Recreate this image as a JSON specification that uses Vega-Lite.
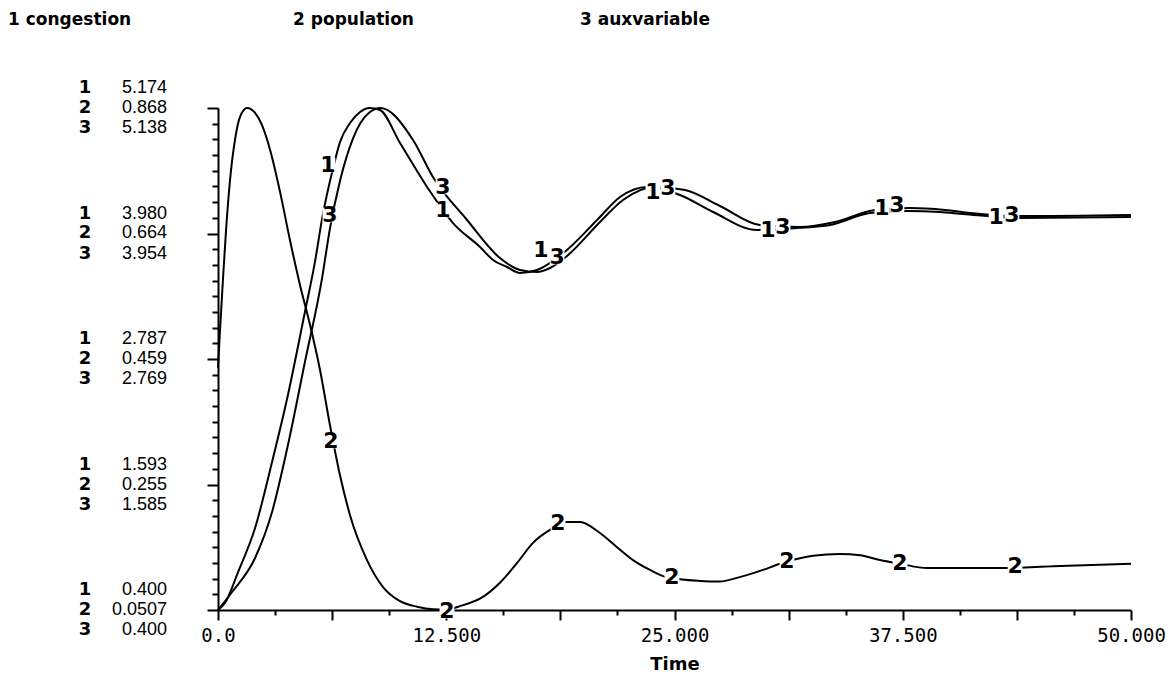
{
  "$schema": "https://vega.github.io/schema/vega-lite/v6.json",
  "width": 913,
  "height": 502,
  "autosize": {"type": "none"},
  "padding": {"left": 218, "top": 108, "right": 43, "bottom": 83},
  "background": "white",
  "config": {"view": {"stroke": null}, "font": "DejaVu Sans"},
  "datasets": {
    "series": [
      {"s": "congestion", "t": 0, "v": 0.4},
      {"s": "congestion", "t": 0.38, "v": 0.467},
      {"s": "congestion", "t": 1.1, "v": 0.761},
      {"s": "congestion", "t": 2.03, "v": 1.18},
      {"s": "congestion", "t": 2.96, "v": 1.807},
      {"s": "congestion", "t": 3.83, "v": 2.445},
      {"s": "congestion", "t": 4.76, "v": 3.234},
      {"s": "congestion", "t": 5.31, "v": 3.71},
      {"s": "congestion", "t": 5.7, "v": 4.12},
      {"s": "congestion", "t": 6.3, "v": 4.6},
      {"s": "congestion", "t": 6.68, "v": 4.85},
      {"s": "congestion", "t": 7.23, "v": 5.031},
      {"s": "congestion", "t": 7.78, "v": 5.136},
      {"s": "congestion", "t": 8.3, "v": 5.174},
      {"s": "congestion", "t": 8.87, "v": 5.155},
      {"s": "congestion", "t": 9.97, "v": 4.841},
      {"s": "congestion", "t": 11.45, "v": 4.423},
      {"s": "congestion", "t": 12.87, "v": 4.08},
      {"s": "congestion", "t": 14.35, "v": 3.852},
      {"s": "congestion", "t": 15.06, "v": 3.729},
      {"s": "congestion", "t": 15.83, "v": 3.662},
      {"s": "congestion", "t": 16.54, "v": 3.605},
      {"s": "congestion", "t": 17.47, "v": 3.633},
      {"s": "congestion", "t": 19.11, "v": 3.824},
      {"s": "congestion", "t": 20.76, "v": 4.109},
      {"s": "congestion", "t": 22.02, "v": 4.328},
      {"s": "congestion", "t": 23.49, "v": 4.423},
      {"s": "congestion", "t": 25.3, "v": 4.347},
      {"s": "congestion", "t": 27.11, "v": 4.185},
      {"s": "congestion", "t": 29.52, "v": 4.014},
      {"s": "congestion", "t": 31.71, "v": 4.033},
      {"s": "congestion", "t": 33.52, "v": 4.061},
      {"s": "congestion", "t": 35.71, "v": 4.175},
      {"s": "congestion", "t": 37.73, "v": 4.194},
      {"s": "congestion", "t": 39.54, "v": 4.185},
      {"s": "congestion", "t": 40.8, "v": 4.166},
      {"s": "congestion", "t": 43.92, "v": 4.128},
      {"s": "congestion", "t": 50, "v": 4.137},
      {"s": "population", "t": 0, "v": 0.445},
      {"s": "population", "t": 0.11, "v": 0.506},
      {"s": "population", "t": 0.27, "v": 0.588},
      {"s": "population", "t": 0.44, "v": 0.669},
      {"s": "population", "t": 0.66, "v": 0.751},
      {"s": "population", "t": 0.93, "v": 0.816},
      {"s": "population", "t": 1.2, "v": 0.853},
      {"s": "population", "t": 1.59, "v": 0.868},
      {"s": "population", "t": 2.03, "v": 0.86},
      {"s": "population", "t": 2.41, "v": 0.84},
      {"s": "population", "t": 2.85, "v": 0.8},
      {"s": "population", "t": 3.4, "v": 0.731},
      {"s": "population", "t": 3.94, "v": 0.653},
      {"s": "population", "t": 4.49, "v": 0.58},
      {"s": "population", "t": 5.04, "v": 0.515},
      {"s": "population", "t": 5.59, "v": 0.441},
      {"s": "population", "t": 6.13, "v": 0.352},
      {"s": "population", "t": 6.68, "v": 0.27},
      {"s": "population", "t": 7.23, "v": 0.205},
      {"s": "population", "t": 8.16, "v": 0.132},
      {"s": "population", "t": 9.04, "v": 0.088},
      {"s": "population", "t": 9.97, "v": 0.065},
      {"s": "population", "t": 10.9, "v": 0.056},
      {"s": "population", "t": 11.77, "v": 0.052},
      {"s": "population", "t": 12.54, "v": 0.0515},
      {"s": "population", "t": 13.25, "v": 0.057},
      {"s": "population", "t": 14.51, "v": 0.072},
      {"s": "population", "t": 15.44, "v": 0.095},
      {"s": "population", "t": 16.37, "v": 0.127},
      {"s": "population", "t": 17.25, "v": 0.16},
      {"s": "population", "t": 18.18, "v": 0.181},
      {"s": "population", "t": 19.11, "v": 0.194},
      {"s": "population", "t": 19.83, "v": 0.194},
      {"s": "population", "t": 20.92, "v": 0.176},
      {"s": "population", "t": 21.85, "v": 0.153},
      {"s": "population", "t": 22.73, "v": 0.132},
      {"s": "population", "t": 23.66, "v": 0.116},
      {"s": "population", "t": 24.59, "v": 0.104},
      {"s": "population", "t": 26.4, "v": 0.098},
      {"s": "population", "t": 27.49, "v": 0.097},
      {"s": "population", "t": 28.42, "v": 0.103},
      {"s": "population", "t": 29.85, "v": 0.116},
      {"s": "population", "t": 30.78, "v": 0.126},
      {"s": "population", "t": 32.59, "v": 0.139},
      {"s": "population", "t": 34.06, "v": 0.142},
      {"s": "population", "t": 35.16, "v": 0.14},
      {"s": "population", "t": 36.25, "v": 0.132},
      {"s": "population", "t": 37.35, "v": 0.126},
      {"s": "population", "t": 38.83, "v": 0.119},
      {"s": "population", "t": 42.99, "v": 0.119},
      {"s": "population", "t": 45.73, "v": 0.122},
      {"s": "population", "t": 50, "v": 0.126},
      {"s": "auxvariable", "t": 0, "v": 0.4},
      {"s": "auxvariable", "t": 0.77, "v": 0.57},
      {"s": "auxvariable", "t": 2.03, "v": 0.891},
      {"s": "auxvariable", "t": 2.96, "v": 1.325},
      {"s": "auxvariable", "t": 3.83, "v": 1.957},
      {"s": "auxvariable", "t": 4.76, "v": 2.741},
      {"s": "auxvariable", "t": 5.7, "v": 3.533},
      {"s": "auxvariable", "t": 6.13, "v": 4.0},
      {"s": "auxvariable", "t": 6.68, "v": 4.45},
      {"s": "auxvariable", "t": 7.39, "v": 4.85},
      {"s": "auxvariable", "t": 8.32, "v": 5.1},
      {"s": "auxvariable", "t": 8.9, "v": 5.138},
      {"s": "auxvariable", "t": 10.68, "v": 4.836},
      {"s": "auxvariable", "t": 11.77, "v": 4.487},
      {"s": "auxvariable", "t": 13.64, "v": 4.081},
      {"s": "auxvariable", "t": 15.44, "v": 3.722},
      {"s": "auxvariable", "t": 16.54, "v": 3.609},
      {"s": "auxvariable", "t": 17.47, "v": 3.59},
      {"s": "auxvariable", "t": 18.18, "v": 3.628},
      {"s": "auxvariable", "t": 19.11, "v": 3.741},
      {"s": "auxvariable", "t": 20.92, "v": 4.062},
      {"s": "auxvariable", "t": 22.18, "v": 4.27},
      {"s": "auxvariable", "t": 23.93, "v": 4.392},
      {"s": "auxvariable", "t": 25.58, "v": 4.364},
      {"s": "auxvariable", "t": 27.49, "v": 4.213},
      {"s": "auxvariable", "t": 29.68, "v": 4.034},
      {"s": "auxvariable", "t": 31.87, "v": 4.015},
      {"s": "auxvariable", "t": 33.79, "v": 4.062},
      {"s": "auxvariable", "t": 35.98, "v": 4.176},
      {"s": "auxvariable", "t": 37.9, "v": 4.194},
      {"s": "auxvariable", "t": 39.81, "v": 4.176},
      {"s": "auxvariable", "t": 41.18, "v": 4.147},
      {"s": "auxvariable", "t": 43.92, "v": 4.118},
      {"s": "auxvariable", "t": 50, "v": 4.128}
    ],
    "curvelabels": [
      {"s": "congestion", "k": "1", "t": 6.02, "v": 4.632},
      {"s": "congestion", "k": "1", "t": 12.32, "v": 4.204},
      {"s": "congestion", "k": "1", "t": 17.69, "v": 3.824},
      {"s": "congestion", "k": "1", "t": 23.82, "v": 4.375},
      {"s": "congestion", "k": "1", "t": 30.12, "v": 4.014},
      {"s": "congestion", "k": "1", "t": 36.36, "v": 4.223},
      {"s": "congestion", "k": "1", "t": 42.61, "v": 4.137},
      {"s": "population", "k": "2", "t": 6.19, "v": 0.326},
      {"s": "population", "k": "2", "t": 12.54, "v": 0.049},
      {"s": "population", "k": "2", "t": 18.62, "v": 0.192},
      {"s": "population", "k": "2", "t": 24.86, "v": 0.104},
      {"s": "population", "k": "2", "t": 31.16, "v": 0.13},
      {"s": "population", "k": "2", "t": 37.35, "v": 0.127},
      {"s": "population", "k": "2", "t": 43.65, "v": 0.122},
      {"s": "auxvariable", "k": "3", "t": 6.13, "v": 4.128},
      {"s": "auxvariable", "k": "3", "t": 12.32, "v": 4.392},
      {"s": "auxvariable", "k": "3", "t": 18.57, "v": 3.732},
      {"s": "auxvariable", "k": "3", "t": 24.64, "v": 4.383},
      {"s": "auxvariable", "k": "3", "t": 30.94, "v": 4.015},
      {"s": "auxvariable", "k": "3", "t": 37.18, "v": 4.222},
      {"s": "auxvariable", "k": "3", "t": 43.48, "v": 4.128}
    ],
    "scalelabels": [
      {"s": "congestion", "k": "1", "v": 5.174, "num": "5.174"},
      {"s": "congestion", "k": "1", "v": 3.9805, "num": "3.980"},
      {"s": "congestion", "k": "1", "v": 2.787, "num": "2.787"},
      {"s": "congestion", "k": "1", "v": 1.5935, "num": "1.593"},
      {"s": "congestion", "k": "1", "v": 0.4, "num": "0.400"},
      {"s": "population", "k": "2", "v": 0.868, "num": "0.868"},
      {"s": "population", "k": "2", "v": 0.6637, "num": "0.664"},
      {"s": "population", "k": "2", "v": 0.4593, "num": "0.459"},
      {"s": "population", "k": "2", "v": 0.255, "num": "0.255"},
      {"s": "population", "k": "2", "v": 0.0507, "num": "0.0507"},
      {"s": "auxvariable", "k": "3", "v": 5.138, "num": "5.138"},
      {"s": "auxvariable", "k": "3", "v": 3.9535, "num": "3.954"},
      {"s": "auxvariable", "k": "3", "v": 2.769, "num": "2.769"},
      {"s": "auxvariable", "k": "3", "v": 1.5845, "num": "1.585"},
      {"s": "auxvariable", "k": "3", "v": 0.4, "num": "0.400"}
    ],
    "legend": [
      {"name": "1 congestion", "pos": -11.5},
      {"name": "2 population", "pos": 4.11},
      {"name": "3 auxvariable", "pos": 19.82}
    ]
  },
  "resolve": {"scale": {"y": "independent"}, "axis": {"y": "independent"}},
  "layer": [
    {
      "data": {"name": "series"},
      "transform": [{"filter": "datum.s == 'congestion'"}],
      "mark": {"type": "line", "color": "black", "strokeWidth": 2, "interpolate": "monotone"},
      "encoding": {
        "x": {"field": "t", "type": "quantitative", "scale": {"domain": [0, 50], "nice": false, "zero": false},
          "axis": {
            "values": [0,1.5625,3.125,4.6875,6.25,7.8125,9.375,10.9375,12.5,14.0625,15.625,17.1875,18.75,20.3125,21.875,23.4375,25,26.5625,28.125,29.6875,31.25,32.8125,34.375,35.9375,37.5,39.0625,40.625,42.1875,43.75,45.3125,46.875,48.4375,50],
            "labelExpr": "datum.value == 0 ? '0.0' : (datum.value % 12.5 == 0 ? format(datum.value, '.3f') : '')",
            "labelFont": "DejaVu Sans Mono", "labelFontSize": 19, "labelColor": "black", "labelOverlap": false, "labelFlush": false, "labelBound": false, "labelPadding": 6,
            "domainColor": "black", "domainWidth": 2, "tickColor": "black", "tickWidth": 2,
            "tickSize": {"condition": {"test": "datum.value % 6.25 == 0", "value": 10}, "value": 5},
            "grid": false,
            "title": "Time", "titleFont": "DejaVu Sans", "titleFontWeight": "bold", "titleFontSize": 18, "titleColor": "black", "titlePadding": 10
          }},
        "y": {"field": "v", "type": "quantitative", "scale": {"domain": [0.4, 5.174], "nice": false, "zero": false}, "axis": null}
      }
    },
    {
      "data": {"name": "series"},
      "transform": [{"filter": "datum.s == 'population'"}],
      "mark": {"type": "line", "color": "black", "strokeWidth": 2, "interpolate": "monotone"},
      "encoding": {
        "x": {"field": "t", "type": "quantitative", "scale": {"domain": [0, 50], "nice": false, "zero": false}},
        "y": {"field": "v", "type": "quantitative", "scale": {"domain": [0.0507, 0.868], "nice": false, "zero": false},
          "axis": {
            "orient": "left", "labels": false, "title": null, "grid": false,
            "values": [0.0507,0.076241,0.101781,0.127322,0.152863,0.178403,0.203944,0.229484,0.255025,0.280566,0.306106,0.331647,0.357188,0.382728,0.408269,0.433809,0.45935,0.484891,0.510431,0.535972,0.561513,0.587053,0.612594,0.638134,0.663675,0.689216,0.714756,0.740297,0.765838,0.791378,0.816919,0.842459,0.868],
            "domainColor": "black", "domainWidth": 2, "tickColor": "black", "tickWidth": 2,
            "tickSize": {"condition": {"test": "abs((datum.value-0.0507)/0.204325 - round((datum.value-0.0507)/0.204325)) < 0.05", "value": 11}, "value": 6}
          }}
      }
    },
    {
      "data": {"name": "series"},
      "transform": [{"filter": "datum.s == 'auxvariable'"}],
      "mark": {"type": "line", "color": "black", "strokeWidth": 2, "interpolate": "monotone"},
      "encoding": {
        "x": {"field": "t", "type": "quantitative", "scale": {"domain": [0, 50], "nice": false, "zero": false}},
        "y": {"field": "v", "type": "quantitative", "scale": {"domain": [0.4, 5.138], "nice": false, "zero": false}, "axis": null}
      }
    },
    {
      "data": {"name": "curvelabels"},
      "transform": [{"filter": "datum.s == 'congestion'"}],
      "mark": {"type": "square", "color": "white", "filled": true, "opacity": 1, "size": 220},
      "encoding": {
        "x": {"field": "t", "type": "quantitative", "scale": {"domain": [0, 50], "nice": false, "zero": false}},
        "y": {"field": "v", "type": "quantitative", "scale": {"domain": [0.4, 5.174], "nice": false, "zero": false}, "axis": null}
      }
    },
    {
      "data": {"name": "curvelabels"},
      "transform": [{"filter": "datum.s == 'population'"}],
      "mark": {"type": "square", "color": "white", "filled": true, "opacity": 1, "size": 220},
      "encoding": {
        "x": {"field": "t", "type": "quantitative", "scale": {"domain": [0, 50], "nice": false, "zero": false}},
        "y": {"field": "v", "type": "quantitative", "scale": {"domain": [0.0507, 0.868], "nice": false, "zero": false}, "axis": null}
      }
    },
    {
      "data": {"name": "curvelabels"},
      "transform": [{"filter": "datum.s == 'auxvariable'"}],
      "mark": {"type": "square", "color": "white", "filled": true, "opacity": 1, "size": 220},
      "encoding": {
        "x": {"field": "t", "type": "quantitative", "scale": {"domain": [0, 50], "nice": false, "zero": false}},
        "y": {"field": "v", "type": "quantitative", "scale": {"domain": [0.4, 5.138], "nice": false, "zero": false}, "axis": null}
      }
    },
    {
      "data": {"name": "curvelabels"},
      "transform": [{"filter": "datum.s == 'congestion'"}],
      "mark": {"type": "text", "color": "black", "font": "DejaVu Sans", "fontWeight": "bold", "fontSize": 22, "align": "center", "baseline": "middle"},
      "encoding": {
        "x": {"field": "t", "type": "quantitative", "scale": {"domain": [0, 50], "nice": false, "zero": false}},
        "y": {"field": "v", "type": "quantitative", "scale": {"domain": [0.4, 5.174], "nice": false, "zero": false}, "axis": null},
        "text": {"field": "k"}
      }
    },
    {
      "data": {"name": "curvelabels"},
      "transform": [{"filter": "datum.s == 'population'"}],
      "mark": {"type": "text", "color": "black", "font": "DejaVu Sans", "fontWeight": "bold", "fontSize": 22, "align": "center", "baseline": "middle"},
      "encoding": {
        "x": {"field": "t", "type": "quantitative", "scale": {"domain": [0, 50], "nice": false, "zero": false}},
        "y": {"field": "v", "type": "quantitative", "scale": {"domain": [0.0507, 0.868], "nice": false, "zero": false}, "axis": null},
        "text": {"field": "k"}
      }
    },
    {
      "data": {"name": "curvelabels"},
      "transform": [{"filter": "datum.s == 'auxvariable'"}],
      "mark": {"type": "text", "color": "black", "font": "DejaVu Sans", "fontWeight": "bold", "fontSize": 22, "align": "center", "baseline": "middle"},
      "encoding": {
        "x": {"field": "t", "type": "quantitative", "scale": {"domain": [0, 50], "nice": false, "zero": false}},
        "y": {"field": "v", "type": "quantitative", "scale": {"domain": [0.4, 5.138], "nice": false, "zero": false}, "axis": null},
        "text": {"field": "k"}
      }
    },
    {
      "data": {"name": "scalelabels"},
      "transform": [{"filter": "datum.s == 'congestion'"}],
      "layer": [
        {"mark": {"type": "text", "color": "black", "font": "Liberation Sans", "fontSize": 18, "align": "right", "baseline": "middle", "dy": -20},
         "encoding": {"text": {"field": "num"}, "x": {"datum": -2.79, "type": "quantitative", "scale": {"domain": [0, 50], "nice": false, "zero": false}}}},
        {"mark": {"type": "text", "color": "black", "font": "DejaVu Sans", "fontWeight": "bold", "fontSize": 18, "align": "center", "baseline": "middle", "dy": -20},
         "encoding": {"text": {"field": "k"}, "x": {"datum": -7.28, "type": "quantitative", "scale": {"domain": [0, 50], "nice": false, "zero": false}}}}
      ],
      "encoding": {
        "y": {"field": "v", "type": "quantitative", "scale": {"domain": [0.4, 5.174], "nice": false, "zero": false}, "axis": null}
      }
    },
    {
      "data": {"name": "scalelabels"},
      "transform": [{"filter": "datum.s == 'population'"}],
      "layer": [
        {"mark": {"type": "text", "color": "black", "font": "Liberation Sans", "fontSize": 18, "align": "right", "baseline": "middle"},
         "encoding": {"text": {"field": "num"}, "x": {"datum": -2.79, "type": "quantitative", "scale": {"domain": [0, 50], "nice": false, "zero": false}}}},
        {"mark": {"type": "text", "color": "black", "font": "DejaVu Sans", "fontWeight": "bold", "fontSize": 18, "align": "center", "baseline": "middle"},
         "encoding": {"text": {"field": "k"}, "x": {"datum": -7.28, "type": "quantitative", "scale": {"domain": [0, 50], "nice": false, "zero": false}}}}
      ],
      "encoding": {
        "y": {"field": "v", "type": "quantitative", "scale": {"domain": [0.0507, 0.868], "nice": false, "zero": false}, "axis": null}
      }
    },
    {
      "data": {"name": "scalelabels"},
      "transform": [{"filter": "datum.s == 'auxvariable'"}],
      "layer": [
        {"mark": {"type": "text", "color": "black", "font": "Liberation Sans", "fontSize": 18, "align": "right", "baseline": "middle", "dy": 20},
         "encoding": {"text": {"field": "num"}, "x": {"datum": -2.79, "type": "quantitative", "scale": {"domain": [0, 50], "nice": false, "zero": false}}}},
        {"mark": {"type": "text", "color": "black", "font": "DejaVu Sans", "fontWeight": "bold", "fontSize": 18, "align": "center", "baseline": "middle", "dy": 20},
         "encoding": {"text": {"field": "k"}, "x": {"datum": -7.28, "type": "quantitative", "scale": {"domain": [0, 50], "nice": false, "zero": false}}}}
      ],
      "encoding": {
        "y": {"field": "v", "type": "quantitative", "scale": {"domain": [0.4, 5.138], "nice": false, "zero": false}, "axis": null}
      }
    },
    {
      "data": {"name": "legend"},
      "mark": {"type": "text", "color": "black", "font": "DejaVu Sans", "fontWeight": "bold", "fontSize": 17, "align": "left", "baseline": "middle"},
      "encoding": {
        "x": {"field": "pos", "type": "quantitative", "scale": {"domain": [0, 50], "nice": false, "zero": false}},
        "y": {"datum": 1.0112, "type": "quantitative", "scale": {"domain": [0.0507, 0.868], "nice": false, "zero": false}, "axis": null},
        "text": {"field": "name"}
      }
    }
  ]
}
